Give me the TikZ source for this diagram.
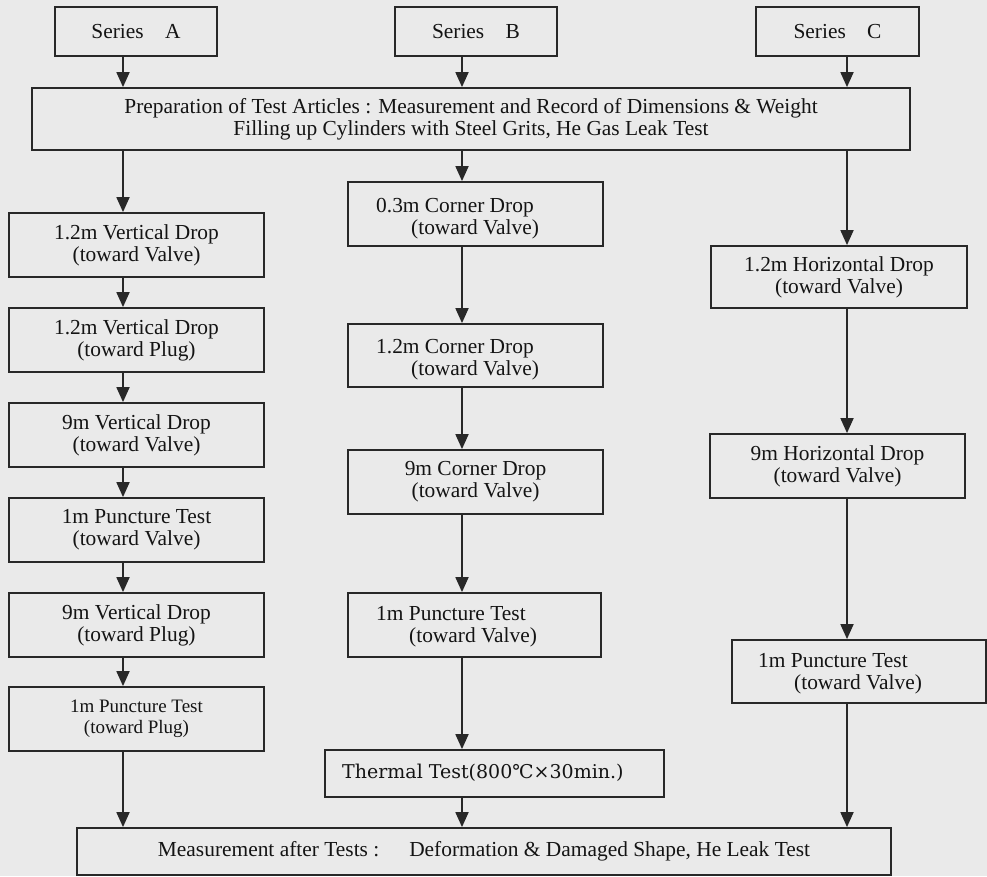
\documentclass[tikz,border=0pt]{standalone}
\usepackage{fontspec}
\setmainfont{Liberation Serif}
\newfontfamily\thermfont{DejaVu Serif}
\usetikzlibrary{arrows.meta}
\definecolor{bgc}{RGB}{234,234,234}
\definecolor{inkc}{RGB}{40,40,40}
\definecolor{txtc}{RGB}{20,20,20}
\tikzset{
  boxnode/.style={draw=inkc, line width=1.8pt, fill=bgc, inner sep=0pt, align=center,
    text=txtc, font=\fontsize{21.4}{22}\selectfont},
  txtnode/.style={anchor=base west, inner sep=0pt, text=txtc, font=\fontsize{21.4}{22}\selectfont},
  arr/.style={draw=inkc, line width=1.8pt, -{Triangle[width=13pt,length=15pt]}}
}
% box: name, x1, y1, x2, y2, text
\newcommand{\mybox}[6]{%
  \node[boxnode, minimum width={#4-#2}, minimum height={#5-#3}] (#1) at ({(#2+#4)/2},{(#3+#5)/2}) {#6};}
\begin{document}
\begin{tikzpicture}[x=1pt,y=-1pt]
\fill[bgc] (0,0) rectangle (987,876);
\useasboundingbox (0,0) rectangle (987,876);
\coordinate (xA) at (123,0);
\coordinate (xB) at (462,0);
\coordinate (xC) at (847,0);

\mybox{sA}{55}{7}{217}{56}{Series\quad A}
\mybox{sB}{395}{7}{557}{56}{Series\quad B}
\mybox{sC}{756}{7}{919}{56}{Series\quad C}
\mybox{prep}{32}{88}{910}{150}{Preparation of Test Articles : Measurement and Record of Dimensions \& Weight\\Filling up Cylinders with Steel Grits, He Gas Leak Test}

\mybox{a1}{9}{213}{264}{277}{1.2m Vertical Drop\\(toward Valve)}
\mybox{a2}{9}{308}{264}{372}{1.2m Vertical Drop\\(toward Plug)}
\mybox{a3}{9}{403}{264}{467}{9m Vertical Drop\\(toward Valve)}
\mybox{a4}{9}{498}{264}{562}{1m Puncture Test\\(toward Valve)}
\mybox{a5}{9}{593}{264}{657}{9m Vertical Drop\\(toward Plug)}
\node[boxnode, minimum width=255, minimum height=64, font=\fontsize{19}{21}\selectfont] (a6) at (136.5,719) {1m Puncture Test\\(toward Plug)};

\mybox{b1}{348}{182}{603}{246}{}
\node[txtnode] (b1t1) at (376,212) {0.3m Corner Drop};
\node[txtnode] (b1t2) at (411,234) {(toward Valve)};
\mybox{b2}{348}{324}{603}{387}{}
\node[txtnode] (b2t1) at (376,353) {1.2m Corner Drop};
\node[txtnode] (b2t2) at (411,375) {(toward Valve)};
\mybox{b3}{348}{450}{603}{514}{9m Corner Drop\\(toward Valve)}
\mybox{b4}{348}{593}{601}{657}{}
\node[txtnode] (b4t1) at (376,620) {1m Puncture Test};
\node[txtnode] (b4t2) at (409,642) {(toward Valve)};
\mybox{therm}{325}{750}{664}{797}{}
\node[txtnode, font=\thermfont\fontsize{19}{21}\selectfont] (thermt) at (342,778) {Thermal Test(800℃×30min.)};

\mybox{c1}{711}{246}{967}{308}{1.2m Horizontal Drop\\(toward Valve)}
\mybox{c2}{710}{434}{965}{498}{9m Horizontal Drop\\(toward Valve)}
\mybox{c3}{732}{640}{986}{703}{}
\node[txtnode] (c3t1) at (758,667) {1m Puncture Test};
\node[txtnode] (c3t2) at (794,689) {(toward Valve)};

\mybox{meas}{77}{828}{891}{875}{Measurement after Tests :\hspace{1.4em}Deformation \& Damaged Shape, He Leak Test}

% arrows column A
\draw[arr] (sA.south -| xA) -- (prep.north -| xA);
\draw[arr] (prep.south -| xA) -- (a1.north -| xA);
\draw[arr] (a1.south -| xA) -- (a2.north -| xA);
\draw[arr] (a2.south -| xA) -- (a3.north -| xA);
\draw[arr] (a3.south -| xA) -- (a4.north -| xA);
\draw[arr] (a4.south -| xA) -- (a5.north -| xA);
\draw[arr] (a5.south -| xA) -- (a6.north -| xA);
\draw[arr] (a6.south -| xA) -- (meas.north -| xA);
% column B
\draw[arr] (sB.south -| xB) -- (prep.north -| xB);
\draw[arr] (prep.south -| xB) -- (b1.north -| xB);
\draw[arr] (b1.south -| xB) -- (b2.north -| xB);
\draw[arr] (b2.south -| xB) -- (b3.north -| xB);
\draw[arr] (b3.south -| xB) -- (b4.north -| xB);
\draw[arr] (b4.south -| xB) -- (therm.north -| xB);
\draw[arr] (therm.south -| xB) -- (meas.north -| xB);
% column C
\draw[arr] (sC.south -| xC) -- (prep.north -| xC);
\draw[arr] (prep.south -| xC) -- (c1.north -| xC);
\draw[arr] (c1.south -| xC) -- (c2.north -| xC);
\draw[arr] (c2.south -| xC) -- (c3.north -| xC);
\draw[arr] (c3.south -| xC) -- (meas.north -| xC);
\end{tikzpicture}
\end{document}
